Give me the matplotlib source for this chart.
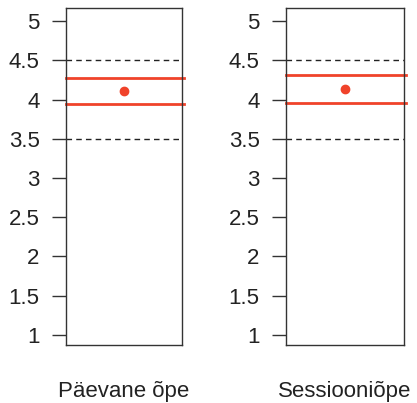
import matplotlib.pyplot as plt

plt.rcParams['font.family'] = ['Liberation Sans', 'DejaVu Sans']

# Andmed
groups = ['Päevane õpe', 'Sessiooniõpe']
means = [4.11, 4.14]
lower = [3.945, 3.96]
upper = [4.27, 4.31]
ref_lines = [3.5, 4.5]
yticks = [1, 1.5, 2, 2.5, 3, 3.5, 4, 4.5, 5]
red = '#f0432a'

fig = plt.figure(figsize=(4.17, 4.03), dpi=100)
positions = [[0.158, 0.144, 0.278, 0.836], [0.686, 0.144, 0.283, 0.836]]

for i, name in enumerate(groups):
    ax = fig.add_axes(positions[i])
    ax.set_xlim(0, 1)
    ax.set_ylim(0.87, 5.166)
    for r in ref_lines:
        ax.axhline(r, color='#222222', linestyle=(0, (4, 3)), linewidth=1)
    ax.plot([0, 1.02], [lower[i], lower[i]], color=red, linewidth=2, clip_on=False)
    ax.plot([0, 1.02], [upper[i], upper[i]], color=red, linewidth=2, clip_on=False)
    ax.plot(0.5, means[i], 'o', color=red, markersize=6)
    ax.set_yticks(yticks)
    ax.set_yticklabels([f'{t:g}' for t in yticks])
    ax.set_xticks([])
    ax.tick_params(axis='y', labelsize=16, length=10, width=1, color='#333333', pad=9, labelcolor='#222222')
    for s in ax.spines.values():
        s.set_color('#333333')
        s.set_linewidth(1)
    ax.set_xlabel(name, fontsize=16, labelpad=26, color='#222222')

fig.savefig('out.png', dpi=100)
